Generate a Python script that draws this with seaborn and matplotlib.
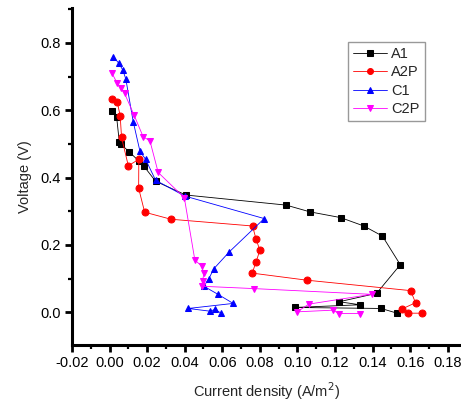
import pandas as pd
import matplotlib
matplotlib.use("Agg")
import matplotlib.pyplot as plt
from matplotlib.ticker import MultipleLocator
import seaborn as sns

sns.set_theme(style="ticks")
plt.rcParams["font.family"] = ["Liberation Sans", "DejaVu Sans"]

# current density (A/m2) and voltage (V)
a1_x = [0.0014, 0.0038, 0.0052, 0.0061, 0.0105, 0.0156, 0.0181, 0.0245, 0.0406,
        0.094, 0.1066, 0.1229, 0.1353, 0.1452, 0.1547, 0.1421, 0.1222, 0.1332,
        0.0986, 0.1445, 0.153]
a1_y = [0.597, 0.579, 0.506, 0.499, 0.476, 0.449, 0.435, 0.389, 0.348,
        0.318, 0.298, 0.281, 0.256, 0.226, 0.141, 0.056, 0.031, 0.022,
        0.014, 0.011, -0.003]

a2p_x = [0.0014, 0.0041, 0.0057, 0.0064, 0.0100, 0.0156, 0.0155, 0.0187, 0.0327,
         0.0761, 0.0779, 0.0800, 0.0779, 0.0759, 0.105, 0.1602, 0.1628, 0.1554,
         0.1589, 0.1663]
a2p_y = [0.632, 0.625, 0.582, 0.519, 0.435, 0.454, 0.368, 0.297, 0.276,
         0.256, 0.218, 0.184, 0.148, 0.116, 0.095, 0.064, 0.028, 0.009,
         -0.003, -0.003]

c1_x = [0.002, 0.005, 0.0071, 0.0087, 0.0126, 0.0162, 0.0192, 0.0245, 0.0400,
        0.0823, 0.0637, 0.0555, 0.0529, 0.0502, 0.0577, 0.0658, 0.0419, 0.0534,
        0.0562, 0.0591]
c1_y = [0.759, 0.739, 0.719, 0.692, 0.566, 0.478, 0.454, 0.392, 0.345,
        0.278, 0.179, 0.129, 0.100, 0.077, 0.053, 0.026, 0.011, 0.003,
        0.008, -0.002]

c2p_x = [0.0014, 0.0041, 0.0061, 0.008, 0.0131, 0.0179, 0.0215, 0.0259, 0.0398,
         0.0454, 0.049, 0.0502, 0.0495, 0.049, 0.077, 0.1394, 0.1061, 0.0998,
         0.119, 0.122, 0.1332]
c2p_y = [0.709, 0.680, 0.665, 0.650, 0.585, 0.521, 0.509, 0.415, 0.340,
         0.155, 0.137, 0.115, 0.092, 0.077, 0.070, 0.053, 0.024, 0.001,
         0.006, -0.004, -0.004]

series = [
    ("A1", a1_x, a1_y, "black", "s"),
    ("A2P", a2p_x, a2p_y, "red", "o"),
    ("C1", c1_x, c1_y, "blue", "^"),
    ("C2P", c2p_x, c2p_y, "magenta", "v"),
]

fig = plt.figure(figsize=(4.61, 4.08), dpi=100)
ax = fig.add_axes([0.156, 0.154, 0.844, 0.826])

for name, xs, ys, col, mk in series:
    sns.lineplot(
        x=xs, y=ys, sort=False, estimator=None, ax=ax,
        color=col, linewidth=0.6, alpha=1, marker=mk, markersize=5,
        markeredgecolor=col, markerfacecolor=col, label=name
    )

ax.set_xlim(-0.02, 0.187)
ax.set_ylim(-0.098, 0.903)
ax.xaxis.set_major_locator(MultipleLocator(0.02))
ax.xaxis.set_minor_locator(MultipleLocator(0.01))
ax.yaxis.set_major_locator(MultipleLocator(0.2))
ax.yaxis.set_minor_locator(MultipleLocator(0.1))
ax.xaxis.set_major_formatter(plt.FuncFormatter(lambda v, p: f"{v:.2f}"))
ax.yaxis.set_major_formatter(plt.FuncFormatter(lambda v, p: f"{v:.1f}"))

for s in ["top", "right"]:
    ax.spines[s].set_visible(False)
for s in ["left", "bottom"]:
    ax.spines[s].set_linewidth(2.2)
    ax.spines[s].set_color("black")

ax.tick_params(which="major", direction="out", length=5, width=2, labelsize=10.5,
               colors="black", pad=3)
ax.tick_params(which="minor", direction="out", length=3, width=1.6, colors="black")

ax.set_xlabel("Current density (A/m$^2$)", fontsize=10.5, labelpad=7)
ax.set_ylabel("Voltage (V)", fontsize=10.5, labelpad=6)

leg = ax.legend(loc="upper left", bbox_to_anchor=(0.71, 0.90), fontsize=10.5,
                frameon=True, fancybox=False, edgecolor="gray",
                handlelength=2.3, handletextpad=0.3, borderpad=0.35,
                labelspacing=0.3, borderaxespad=0, markerscale=0.85)
leg.get_frame().set_linewidth(1)

plt.savefig("out.png", dpi=100)
plt.close()
